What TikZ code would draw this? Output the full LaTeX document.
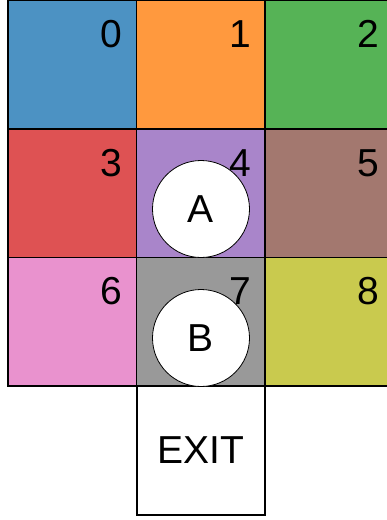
\documentclass[tikz,border=0pt]{standalone}
\usepackage{fontspec}
\setmainfont{Liberation Sans}
\usetikzlibrary{calc}

\definecolor{cblue}{RGB}{76,146,195}
\definecolor{corange}{RGB}{255,153,62}
\definecolor{cgreen}{RGB}{86,179,86}
\definecolor{cred}{RGB}{222,82,83}
\definecolor{cpurple}{RGB}{169,133,202}
\definecolor{cbrown}{RGB}{163,120,111}
\definecolor{cpink}{RGB}{233,146,206}
\definecolor{cgray}{RGB}{153,153,153}
\definecolor{colive}{RGB}{201,202,78}

\tikzset{
  cell/.style={draw=black, line width=1.6pt, minimum size=128.5pt, inner sep=0pt, outer sep=0pt, font=\fontsize{39}{39}\selectfont},
  num/.style={anchor=north east, inner sep=0pt, font=\fontsize{39}{39}\selectfont},
  agent/.style={circle, draw=black, line width=0.8pt, fill=white, minimum size=97pt, inner sep=0pt, font=\fontsize{39}{39}\selectfont}
}

\begin{document}
\begin{tikzpicture}[x=1pt, y=-1pt]
        \useasboundingbox (0,0) rectangle (387,520);
        % grid of rooms
        \foreach \n/\cx/\cy/\col in {0/0/0/cblue, 1/1/0/corange, 2/2/0/cgreen,
                                     3/0/1/cred, 4/1/1/cpurple, 5/2/1/cbrown,
                                     6/0/2/cpink, 7/1/2/cgray, 8/2/2/colive}{
            \node[cell, fill=\col] (c\n) at (72.25+128.5*\cx, 64.75+128.5*\cy) {};
        }
        \node[cell, fill=white] (exit) at (201, 450.5) {EXIT};
        % agents
        \node[agent] (A) at (201, 209) {A};
        \node[agent] (B) at (201, 338) {B};
        % room numbers
        \foreach \n in {0,...,8}{
            \node[num] (n\n) at ($(c\n.north east)+(-14,20)$) {\n};
        }
    \end{tikzpicture}
\end{document}
